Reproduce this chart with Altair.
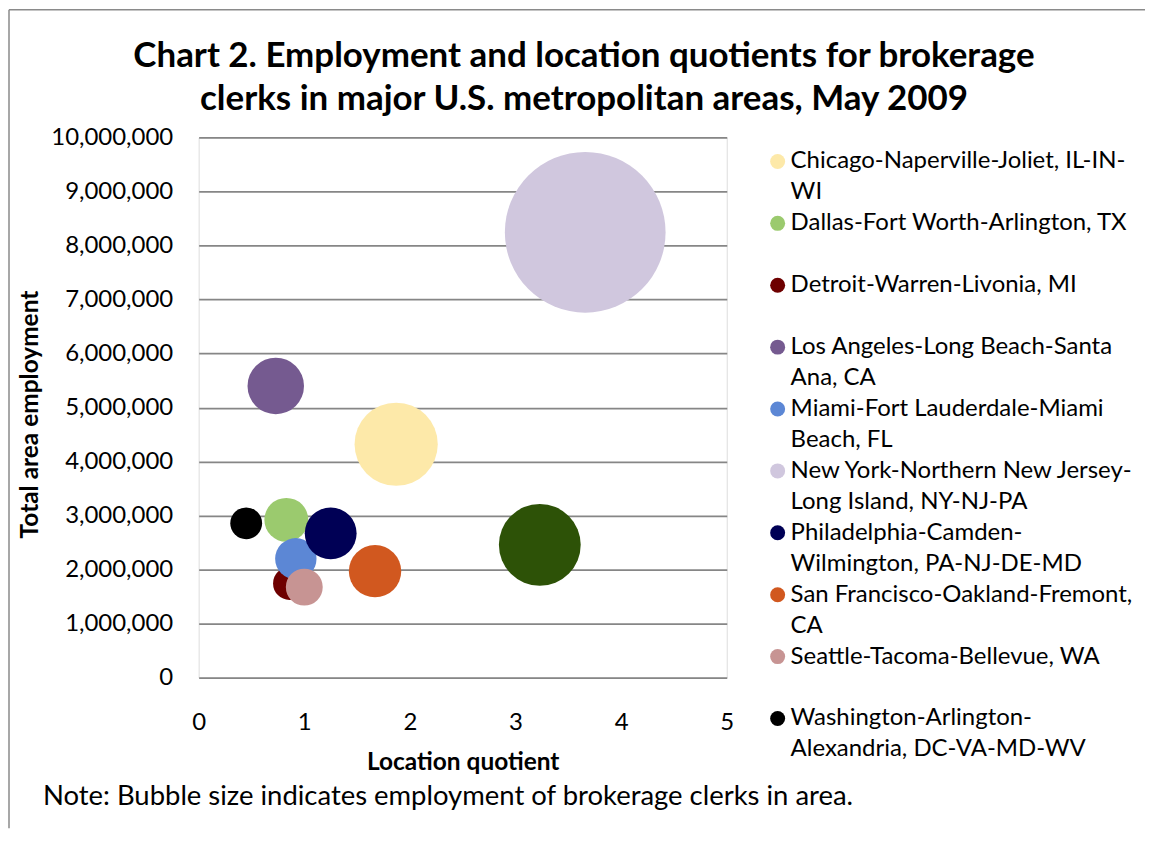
import json
import altair as alt
import pandas as pd

# ---------------- data ----------------
metros = [
    "Boston-Cambridge-Quincy, MA-NH",
    "Chicago-Naperville-Joliet, IL-IN-WI",
    "Dallas-Fort Worth-Arlington, TX",
    "Detroit-Warren-Livonia, MI",
    "Los Angeles-Long Beach-Santa Ana, CA",
    "Miami-Fort Lauderdale-Miami Beach, FL",
    "New York-Northern New Jersey-Long Island, NY-NJ-PA",
    "Philadelphia-Camden-Wilmington, PA-NJ-DE-MD",
    "San Francisco-Oakland-Fremont, CA",
    "Seattle-Tacoma-Bellevue, WA",
    "Washington-Arlington-Alexandria, DC-VA-MD-WV",
]
location_quotient = [3.23, 1.87, 0.83, 0.86, 0.73, 0.92, 3.66, 1.25, 1.67, 1.00, 0.45]
total_employment = [2457000, 4320000, 2920000, 1742000, 5400000, 2200000,
                    8245000, 2670000, 1970000, 1675000, 2856000]
clerk_employment = [4030, 4170, 1160, 650, 1920, 1030, 15550, 1620, 1650, 820, 610]
colors = ["#2D5207", "#FDE9A9", "#9BCA6E", "#6E0000", "#755A90", "#5C87D5",
          "#D0C7DE", "#000055", "#D1581F", "#C79493", "#000000"]

legend_metros = metros[1:]
legend_lines = [
    ["Chicago-Naperville-Joliet, IL-IN-", "WI"],
    ["Dallas-Fort Worth-Arlington, TX"],
    ["Detroit-Warren-Livonia, MI"],
    ["Los Angeles-Long Beach-Santa", "Ana, CA"],
    ["Miami-Fort Lauderdale-Miami", "Beach, FL"],
    ["New York-Northern New Jersey-", "Long Island, NY-NJ-PA"],
    ["Philadelphia-Camden-", "Wilmington, PA-NJ-DE-MD"],
    ["San Francisco-Oakland-Fremont,", "CA"],
    ["Seattle-Tacoma-Bellevue, WA"],
    ["Washington-Arlington-", "Alexandria, DC-VA-MD-WV"],
]

x_ticks = [0, 1, 2, 3, 4, 5]
y_ticks = [0, 1000000, 2000000, 3000000, 4000000, 5000000,
           6000000, 7000000, 8000000, 9000000, 10000000]

title_lines = ["Chart 2. Employment and location quotients for brokerage",
               "clerks in major U.S. metropolitan areas, May 2009"]
note_text = ["Note: Bubble size indicates employment of brokerage clerks in area."]

FONT = "Lato"
W, H = 529, 541

df = pd.DataFrame({"metro": metros, "lq": location_quotient,
                   "emp": total_employment, "clerks": clerk_employment})

label_expr = "datum.label"
for name, lines in reversed(list(zip(legend_metros, legend_lines))):
    label_expr = f'datum.label == "{name}" ? {json.dumps(lines)} : ({label_expr})'

bubbles = alt.Chart(df).mark_circle(opacity=1).encode(
    x=alt.X("lq:Q",
            scale=alt.Scale(domain=[0, 5], nice=False),
            axis=alt.Axis(values=x_ticks, title="Location quotient", grid=False,
                          domain=False, ticks=False, labelPadding=33,
                          labelFont=FONT, labelFontSize=24, labelColor="#000",
                          labelFlush=False, labelOverlap=False,
                          titleFont=FONT, titleFontSize=24.5, titleFontWeight="bold",
                          titleColor="#000", titleX=264.5, titleY=92,
                          titleBaseline="alphabetic")),
    y=alt.Y("emp:Q",
            scale=alt.Scale(domain=[0, 10000000], nice=False),
            axis=alt.Axis(values=y_ticks, format=",.0f", title="Total area employment",
                          grid=True, gridColor="#868686", gridWidth=1.75,
                          domain=False, ticks=False, labelPadding=26,
                          labelFont=FONT, labelFontSize=24, labelColor="#000",
                          labelOverlap=False,
                          titleFont=FONT, titleFontSize=24.5, titleFontWeight="bold",
                          titleColor="#000", titleX=-168.5, titleY=277,
                          titleAngle=270, titleBaseline="middle")),
    size=alt.Size("clerks:Q", scale=alt.Scale(domain=[0, 15550], range=[0, 25921]),
                  legend=None),
    color=alt.Color("metro:N",
                    scale=alt.Scale(domain=metros, range=colors),
                    legend=alt.Legend(orient="none", legendX=568, legendY=12,
                                      title=None, values=legend_metros,
                                      labelExpr=label_expr, labelFont=FONT,
                                      labelFontSize=24, labelColor="#000",
                                      labelLimit=0, labelOffset=1,
                                      labelBaseline="middle",
                                      symbolType="circle", symbolSize=225,
                                      symbolStrokeWidth=0, symbolOpacity=1,
                                      padding=0, rowPadding=7, gridAlign="all")),
)

frame_df = pd.DataFrame({"k": [0]})
left_rule = alt.Chart(frame_df).mark_rule(color="#8A8A8A", strokeWidth=1.5).encode(
    x=alt.value(-190), y=alt.value(-128), y2=alt.value(692))
top_rule = alt.Chart(frame_df).mark_rule(color="#8A8A8A", strokeWidth=1.5).encode(
    x=alt.value(-190), x2=alt.value(948), y=alt.value(-128))

t1 = alt.Chart(pd.DataFrame({"t": [title_lines[0]]})).mark_text(
    font=FONT, fontSize=35, fontWeight="bold", align="center",
    baseline="alphabetic", color="#000").encode(
    text="t:N", x=alt.value(386), y=alt.value(-70.5))
t2 = alt.Chart(pd.DataFrame({"t": [title_lines[1]]})).mark_text(
    font=FONT, fontSize=35, fontWeight="bold", align="center",
    baseline="alphabetic", color="#000").encode(
    text="t:N", x=alt.value(386), y=alt.value(-27.5))
note = alt.Chart(pd.DataFrame({"t": note_text})).mark_text(
    font=FONT, fontSize=27.5, align="left", baseline="alphabetic",
    color="#000").encode(text="t:N", x=alt.value(-156), y=alt.value(669))

chart = alt.layer(left_rule, top_rule, bubbles, t1, t2, note).properties(
    width=W, height=H, padding=0
).configure_view(stroke=None).configure(
    style={"guide-label": {"lineHeight": 31}}
)

chart.save("out.html", embed_options={"renderer": "svg", "actions": False})
